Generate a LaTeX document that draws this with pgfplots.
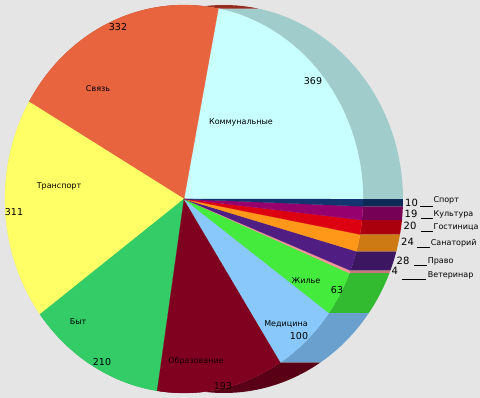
\documentclass[border=0pt]{standalone}
\usepackage{fontspec}
\setmainfont{DejaVu Sans}
\usepackage{pgfplots}
\usepackage{pgfplotstable}
\pgfplotsset{compat=1.18}

\definecolor{bg}{RGB}{229,229,229}
\definecolor{fKom}{RGB}{200,255,255} \definecolor{sKom}{RGB}{160,204,204}
\definecolor{fSv}{RGB}{232,100,62}   \definecolor{sSv}{RGB}{150,45,30}
\definecolor{fTr}{RGB}{255,255,102}  \definecolor{sTr}{RGB}{204,204,80}
\definecolor{fBy}{RGB}{52,204,102}   \definecolor{sBy}{RGB}{40,160,80}
\definecolor{fOb}{RGB}{128,0,32}     \definecolor{sOb}{RGB}{90,0,22}
\definecolor{fMe}{RGB}{136,200,250}  \definecolor{sMe}{RGB}{105,160,205}
\definecolor{fZh}{RGB}{68,234,60}    \definecolor{sZh}{RGB}{50,186,48}
\definecolor{fVe}{RGB}{240,150,150}  \definecolor{sVe}{RGB}{200,120,120}
\definecolor{fPr}{RGB}{80,30,130}    \definecolor{sPr}{RGB}{60,22,96}
\definecolor{fSa}{RGB}{255,152,24}   \definecolor{sSa}{RGB}{205,122,20}
\definecolor{fGo}{RGB}{220,0,16}     \definecolor{sGo}{RGB}{170,0,14}
\definecolor{fKu}{RGB}{150,0,110}    \definecolor{sKu}{RGB}{118,0,86}
\definecolor{fSp}{RGB}{20,52,112}    \definecolor{sSp}{RGB}{14,40,88}

% values of the slices, counter-clockwise from 0 degrees
\pgfplotstableread{
value front side
369 fKom sKom
332 fSv sSv
311 fTr sTr
210 fBy sBy
193 fOb sOb
100 fMe sMe
63 fZh sZh
4 fVe sVe
28 fPr sPr
24 fSa sSa
20 fGo sGo
19 fKu sKu
10 fSp sSp
}\piedata

\newcommand\lab[1]{\fontsize{8}{9}\selectfont #1}
\newcommand\num[1]{\fontsize{9.5}{11}\selectfont #1}
\newcommand\numr[1]{\fontsize{10}{11}\selectfont #1}

\begin{document}
\begin{tikzpicture}
\pgfmathsetmacro\total{0}
\pgfplotsforeachungrouped \i in {0,...,12}{%
  \pgfplotstablegetelem{\i}{value}\of\piedata
  \pgfmathsetmacro\total{\total+\pgfplotsretval}%
}
\begin{axis}[scale only axis, width=480pt, height=398pt,
  xmin=0, xmax=480, ymin=0, ymax=398,
  axis line style={draw=none}, ticks=none,
  axis background/.style={fill=bg}]
% side (depth) of the pie
\def\aStart{0}
\pgfplotsforeachungrouped \i in {0,...,12}{%
  \pgfplotstablegetelem{\i}{value}\of\piedata \let\sliceVal\pgfplotsretval
  \pgfplotstablegetelem{\i}{side}\of\piedata \let\sideCol\pgfplotsretval
  \pgfmathsetmacro\aEnd{\aStart+\sliceVal/\total*360}%
  \edef\temp{\noexpand\addplot[fill=\sideCol, draw=none, variable=\noexpand\t,
     samples at={0,0.025,...,1,1.0001,1.025,1.05,...,2,2}]
    ({184+179*cos(ifthenelse(\noexpand\t<1.00005,\aStart+\noexpand\t*(\aEnd-\aStart),\aEnd-(\noexpand\t-1)*(\aEnd-\aStart)))+40*(\noexpand\t>1.00005)},
     {199+194*sin(ifthenelse(\noexpand\t<1.00005,\aStart+\noexpand\t*(\aEnd-\aStart),\aEnd-(\noexpand\t-1)*(\aEnd-\aStart)))}) -- cycle;}%
  \temp
  \let\aStart\aEnd
}
% front faces
\def\aStart{0}
\pgfplotsforeachungrouped \i in {0,...,12}{%
  \pgfplotstablegetelem{\i}{value}\of\piedata \let\sliceVal\pgfplotsretval
  \pgfplotstablegetelem{\i}{front}\of\piedata \let\frontCol\pgfplotsretval
  \pgfmathsetmacro\aEnd{\aStart+\sliceVal/\total*360}%
  \edef\temp{\noexpand\addplot[fill=\frontCol, draw=\frontCol, line width=0.2pt,
     variable=\noexpand\t, domain=\aStart:\aEnd, samples=50]
    ({184+179*cos(\noexpand\t)}, {199+194*sin(\noexpand\t)}) -- (axis cs:184,199) -- cycle;}%
  \temp
  \let\aStart\aEnd
}
% labels inside
\node at (axis cs:118,371) {\num{332}};
\node at (axis cs:98,309) {\lab{Связь}};
\node at (axis cs:313,317) {\num{369}};
\node at (axis cs:241,276) {\lab{Коммунальные}};
\node at (axis cs:59,212) {\lab{Транспорт}};
\node at (axis cs:14,186) {\num{311}};
\node at (axis cs:78,76) {\lab{Быт}};
\node at (axis cs:102,36) {\num{210}};
\node[text=black!85!fOb] at (axis cs:196,37) {\lab{Образование}};
\node[text=black!85!fOb] at (axis cs:223,12) {\num{193}};
\node at (axis cs:286,74) {\lab{Медицина}};
\node at (axis cs:299,62) {\num{100}};
\node at (axis cs:306,117) {\lab{Жилье}};
\node at (axis cs:337,108) {\num{63}};
% labels of the small slices
\node[anchor=base west, inner sep=0pt] at (axis cs:405,191.3) {\numr{10}};
\draw[black, line width=0.6pt] (axis cs:420,192) -- (axis cs:432.5,192);
\node[anchor=base west, inner sep=0pt] at (axis cs:433.3,195.3) {\lab{Спорт}};
\node[anchor=base west, inner sep=0pt] at (axis cs:404.5,180.7) {\numr{19}};
\draw[black, line width=0.6pt] (axis cs:421,179.7) -- (axis cs:433,179.7);
\node[anchor=base west, inner sep=0pt] at (axis cs:433.5,181) {\lab{Культура}};
\node[anchor=base west, inner sep=0pt] at (axis cs:403.5,168) {\numr{20}};
\draw[black, line width=0.6pt] (axis cs:421,166.3) -- (axis cs:433,166.3);
\node[anchor=base west, inner sep=0pt] at (axis cs:433.5,168) {\lab{Гостиница}};
\node[anchor=base west, inner sep=0pt] at (axis cs:401,152) {\numr{24}};
\draw[black, line width=0.6pt] (axis cs:417,150.7) -- (axis cs:429.5,150.7);
\node[anchor=base west, inner sep=0pt] at (axis cs:430.7,152) {\lab{Санаторий}};
\node[anchor=base west, inner sep=0pt] at (axis cs:396.5,133) {\numr{28}};
\draw[black, line width=0.6pt] (axis cs:414,133) -- (axis cs:427,133);
\node[anchor=base west, inner sep=0pt] at (axis cs:427.7,134) {\lab{Право}};
\node[anchor=base west, inner sep=0pt] at (axis cs:391.5,123) {\numr{4}};
\draw[black, line width=0.6pt] (axis cs:401.7,118.7) -- (axis cs:426,118.7);
\node[anchor=base west, inner sep=0pt] at (axis cs:427.7,120.7) {\lab{Ветеринар}};
\end{axis}
\pgfresetboundingbox
\path (current axis.south west) rectangle (current axis.north east);
\end{tikzpicture}
\end{document}
